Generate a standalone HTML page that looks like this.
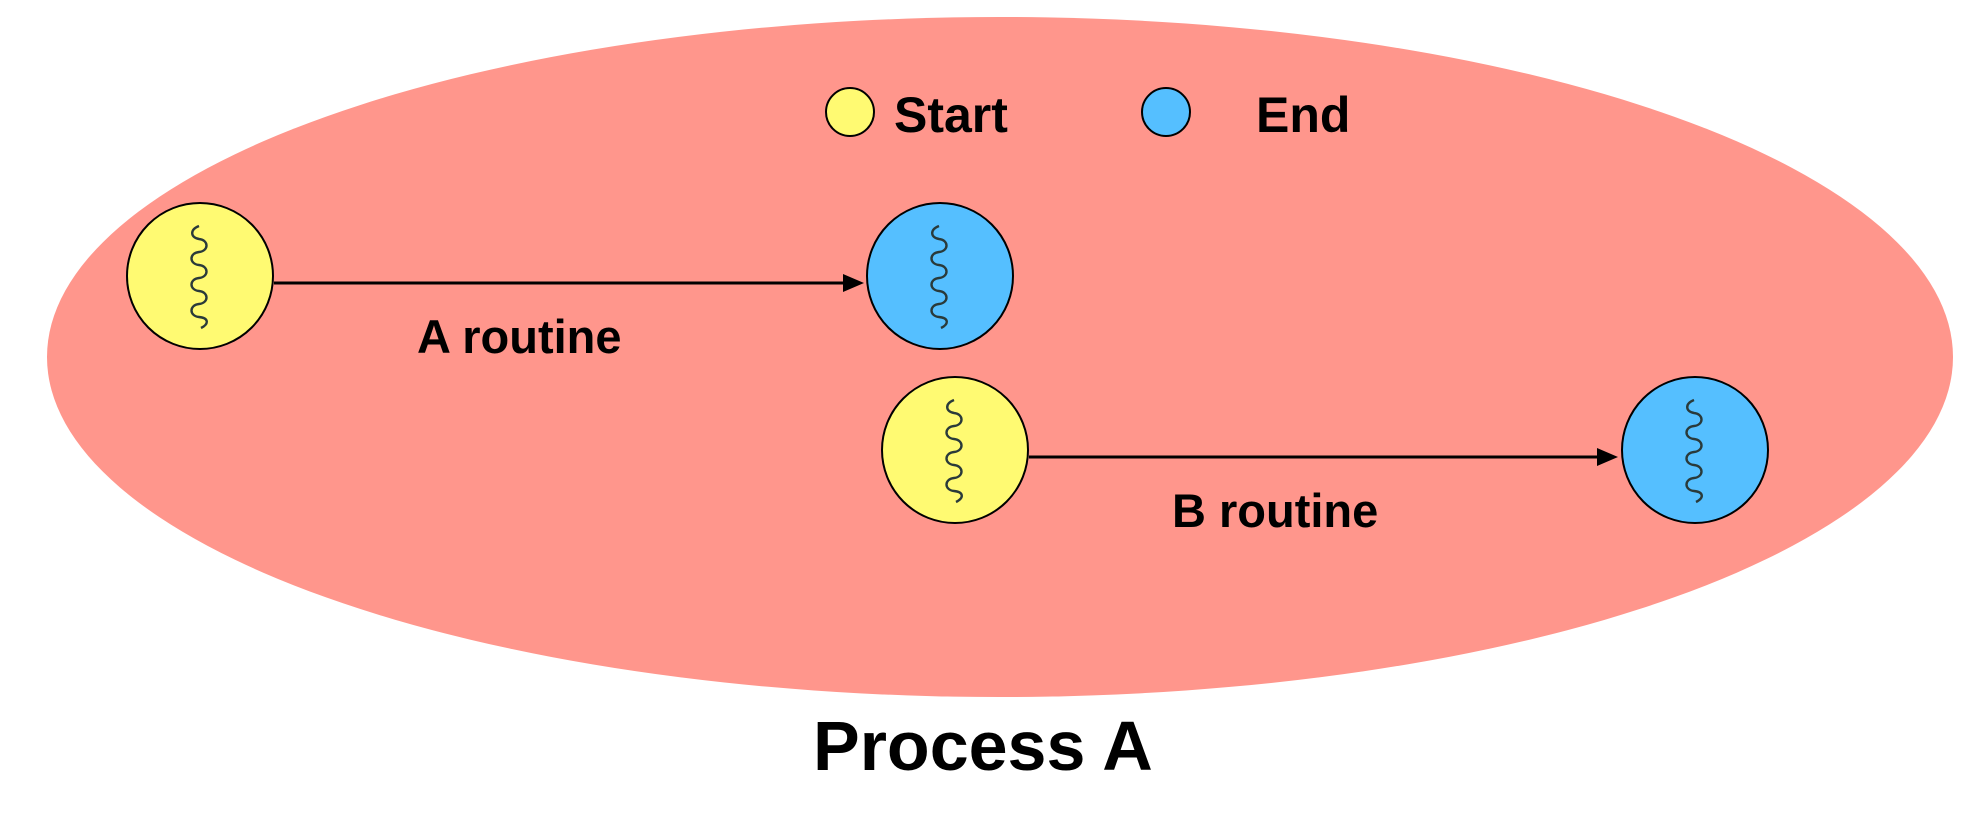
<!DOCTYPE html>
<html><head><meta charset="utf-8"><style>
html,body{margin:0;padding:0;background:#fff;width:1976px;height:820px;overflow:hidden}
text{font-family:"Liberation Sans",Arial,sans-serif;font-weight:bold;fill:#000}
</style></head><body>
<svg width="1976" height="820" viewBox="0 0 1976 820" xmlns="http://www.w3.org/2000/svg">
<defs>
<path id="sq" d="M-2,-50 C-12,-46 -10,-38 -2,-37 C8,-36 8,-25 -2,-24 C-12,-23 -12,-12 -2,-11 C8,-10 8,1 -2,2 C-12,3 -12,14 -2,15 C8,16 8,27 -2,28 C-12,29 -12,40 -2,41 C8,42 8,48 0,52" fill="none" stroke="#2a3a3a" stroke-width="2.4"/>
</defs>
<ellipse cx="1000" cy="357" rx="953" ry="340" fill="#ff968c"/>
<circle cx="850" cy="112" r="24" fill="#fffa72" stroke="#000" stroke-width="2"/>
<text x="894" y="132" font-size="50">Start</text>
<circle cx="1166" cy="112" r="24" fill="#55bfff" stroke="#000" stroke-width="2"/>
<text x="1256" y="132" font-size="50">End</text>

<line x1="274" y1="283" x2="850" y2="283" stroke="#000" stroke-width="3"/>
<path d="M843,274 L864,283 L843,292z" fill="#000"/>
<line x1="1029" y1="457" x2="1600" y2="457" stroke="#000" stroke-width="3"/>
<path d="M1597,448 L1618,457 L1597,466z" fill="#000"/>

<circle cx="200" cy="276" r="73" fill="#fffa72" stroke="#000" stroke-width="2"/>
<use href="#sq" x="201" y="276"/>
<circle cx="940" cy="276" r="73" fill="#55bfff" stroke="#000" stroke-width="2"/>
<use href="#sq" x="941" y="276"/>
<circle cx="955" cy="450" r="73" fill="#fffa72" stroke="#000" stroke-width="2"/>
<use href="#sq" x="956" y="450"/>
<circle cx="1695" cy="450" r="73" fill="#55bfff" stroke="#000" stroke-width="2"/>
<use href="#sq" x="1696" y="450"/>

<text x="417" y="353" font-size="47">A routine</text>
<text x="1172" y="527" font-size="47">B routine</text>
<text x="813" y="770" font-size="70">Process A</text>
</svg>
</body></html>
